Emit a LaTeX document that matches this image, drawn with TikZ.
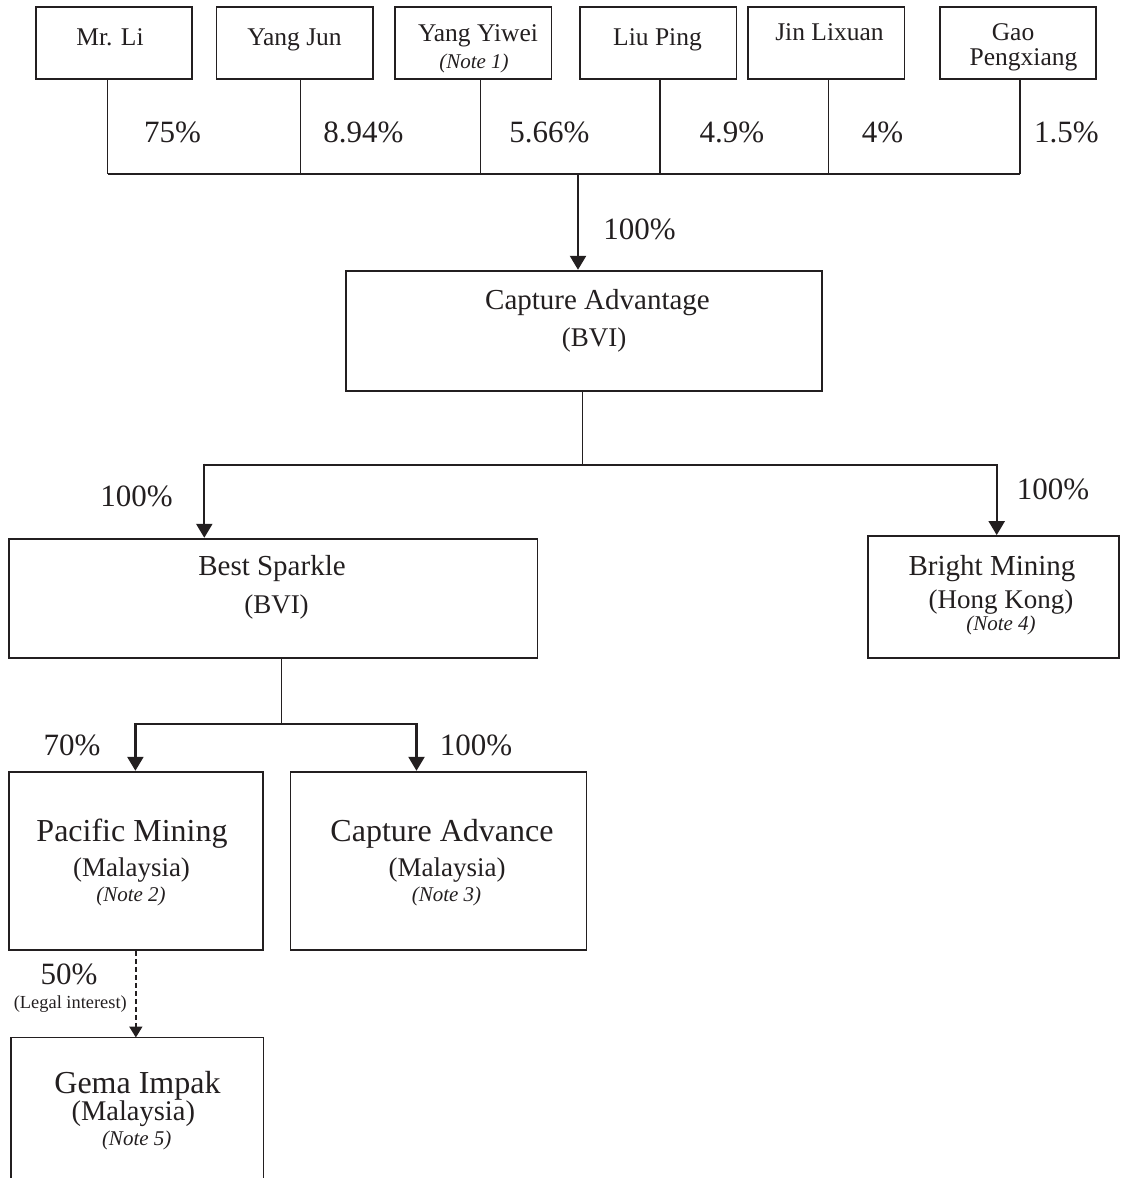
\documentclass[tikz,border=0pt]{standalone}
\usepackage{fontspec}
\setmainfont{Liberation Serif}
\usetikzlibrary{arrows.meta,calc}
\definecolor{ink}{HTML}{231F20}
\newcommand\fz[1]{\fontsize{#1pt}{#1pt}\selectfont}
\tikzset{
  box/.style={draw=ink, line width=1.8pt, inner sep=0pt, rectangle},
  ghost/.style={inner sep=0pt, rectangle},
  txt/.style={anchor=base, inner sep=0pt, text=ink},
  conn/.style={draw=ink, line width=1.4pt},
  hconn/.style={draw=ink, line width=1.8pt},
  arr/.style={draw=ink, line width=2.3pt, -{Triangle[length=14pt,width=16pt]}},
  darr/.style={draw=ink, line width=1.9pt, dash pattern=on 5pt off 3pt, -{Triangle[length=11pt,width=13pt]}},
  pname/.style={txt, font=\fz{25.5}},
  pct/.style={txt, font=\fz{31}},
  pnote/.style={txt, font=\fz{21}\itshape},
}
\begin{document}
\begin{tikzpicture}[x=1pt,y=-1pt]
\useasboundingbox (0,0) rectangle (1120,1178);

% ---- shareholders
\node[box, minimum width=156.5pt, minimum height=72.3pt] (mrli)    at (114,42.85) {};
\node[box, minimum width=156.5pt, minimum height=72.3pt] (yangjun) at (294.7,42.85) {};
\node[box, minimum width=156.5pt, minimum height=72.3pt] (yiwei)   at (473.3,42.85) {};
\node[box, minimum width=156.5pt, minimum height=72.3pt] (liuping) at (658.3,42.85) {};
\node[box, minimum width=156.5pt, minimum height=72.3pt] (jin)     at (826.2,42.85) {};
\node[box, minimum width=156.5pt, minimum height=72.3pt] (gao)     at (1018,42.85) {};

\node[pname] (tmrli) at (110,45) {Mr. Li};
\node[pname] (tyangjun) at (294.5,45) {Yang Jun};
\node[pname] (tyiwei) at (478,41.7) {Yang Yiwei};
\node[pnote] (nyiwei) at (474,68) {(Note 1)};
\node[pname] (tliuping) at (657.5,45) {Liu Ping};
\node[pname] (tjin) at (829.5,40.7) {Jin Lixuan};
\node[pname] (tgao1) at (1013,40.7) {Gao};
\node[pname] (tgao2) at (1023.5,65) {Pengxiang};

\node[pct] (p1) at (172.5,142) {75\%};
\node[pct] (p2) at (363.5,142) {8.94\%};
\node[pct] (p3) at (549.5,142) {5.66\%};
\node[pct] (p4) at (732,142) {4.9\%};
\node[pct] (p5) at (882.5,142) {4\%};
\node[pct] (p6) at (1066.5,142) {1.5\%};

% bracket
\coordinate (s1) at ($(mrli.south)+(-6.3,0)$);
\coordinate (s2) at ($(yangjun.south)+(6,0)$);
\coordinate (s3) at ($(yiwei.south)+(7.4,0)$);
\coordinate (s4) at ($(liuping.south)+(1.7,0)$);
\coordinate (s5) at ($(jin.south)+(2.5,0)$);
\coordinate (s6) at ($(gao.south)+(2,0)$);
\coordinate (bl) at (107.7,174);
\coordinate (jtop) at (578,174);
\draw[conn] (s1) -- (s1 |- bl);
\draw[conn] (s2) -- (s2 |- bl);
\draw[conn] (s3) -- (s3 |- bl);
\draw[conn] (s4) -- (s4 |- bl);
\draw[conn] (s5) -- (s5 |- bl);
\draw[conn] (s6) -- (s6 |- bl);
\draw[hconn] (s1 |- bl) -- (s6 |- bl);

% ---- Capture Advantage
\node[box, minimum width=476.3pt, minimum height=120pt] (capadv) at (583.85,330.7) {};
\draw[arr] (jtop) -- (jtop |- capadv.north);
\node[pct] (pca) at (639.5,239) {100\%};
\node[txt, font=\fz{29}] (tcapadv) at (597.5,309) {Capture Advantage};
\node[txt, font=\fz{27}] (tcapadv2) at (594,346) {(BVI)};

\coordinate (cb) at ($(capadv.south)+(-1.15,0)$);
\coordinate (hl) at (204.3,465);
\coordinate (hr) at (996.7,465);
\draw[conn] (cb) -- (cb |- hl);
\draw[hconn] (hl) -- (hr);

% ---- Best Sparkle / Bright Mining
\node[box, minimum width=528.9pt, minimum height=119.6pt] (best) at (273.05,598.5) {};
\node[box, minimum width=251.3pt, minimum height=122.3pt] (bright) at (993.35,597.15) {};
\draw[arr] ($(hl)+(0,-1.5)$) -- (hl |- best.north);
\draw[arr] ($(hr)+(0,-1)$) -- (hr |- bright.north);
\node[pct] (pbest) at (136.5,506.7) {100\%};
\node[pct] (pbright) at (1053,499) {100\%};

\node[txt, font=\fz{29}] (tbest) at (272,575) {Best Sparkle};
\node[txt, font=\fz{27}] (tbest2) at (276.5,613) {(BVI)};
\node[txt, font=\fz{29}] (tbright) at (992,575) {Bright Mining};
\node[txt, font=\fz{27}] (tbright2) at (1001,608) {(Hong Kong)};
\node[pnote] (nbright) at (1001,630) {(Note 4)};

% ---- lower level
\coordinate (bb) at ($(best.south)+(8.35,0)$);
\coordinate (ll) at (135.4,724);
\coordinate (lr) at (416.5,724);
\node[box, minimum width=254.3pt, minimum height=178.3pt] (pacific) at (135.85,860.85) {};
\node[box, minimum width=296.1pt, minimum height=178.3pt] (capadv2) at (438.45,860.85) {};
\draw[conn] (bb) -- (bb |- ll);
\draw[hconn] (ll) -- (lr);
\draw[arr] ($(ll)+(0,-1)$) -- (ll |- pacific.north);
\draw[arr] ($(lr)+(0,-1)$) -- (lr |- capadv2.north);
\node[pct] (ppac) at (72,755) {70\%};
\node[pct] (pcad) at (476,755) {100\%};

\node[txt, font=\fz{32}] (tpac) at (132,841.7) {Pacific Mining};
\node[txt, font=\fz{27}] (tpac2) at (131.5,876.7) {(Malaysia)};
\node[pnote] (npac) at (131,901.7) {(Note 2)};
\node[txt, font=\fz{32}] (tcad) at (442,841.7) {Capture Advance};
\node[txt, font=\fz{27}] (tcad2) at (447,876.7) {(Malaysia)};
\node[pnote] (ncad) at (446.5,901.7) {(Note 3)};

% ---- Gema Impak (box runs past the bottom edge)
\node[ghost, minimum width=252.3pt, minimum height=147.3pt] (gema) at (137.15,1111.35) {};
\draw[ink, line width=1.8pt] (gema.south west) -- (gema.north west) -- (gema.north east) -- (gema.south east);
\draw[darr] (pacific.south) -- (pacific.south |- gema.north);
\node[pct] (pgema) at (69,984) {50\%};
\node[txt, font=\fz{18.4}] (lgema) at (70.3,1008) {(Legal interest)};
\node[txt, font=\fz{32}] (tgema) at (137.5,1093) {Gema Impak};
\node[txt, font=\fz{28.5}] (tgema2) at (133.3,1120.7) {(Malaysia)};
\node[pnote] (ngema) at (136.7,1145) {(Note 5)};
\end{tikzpicture}
\end{document}
